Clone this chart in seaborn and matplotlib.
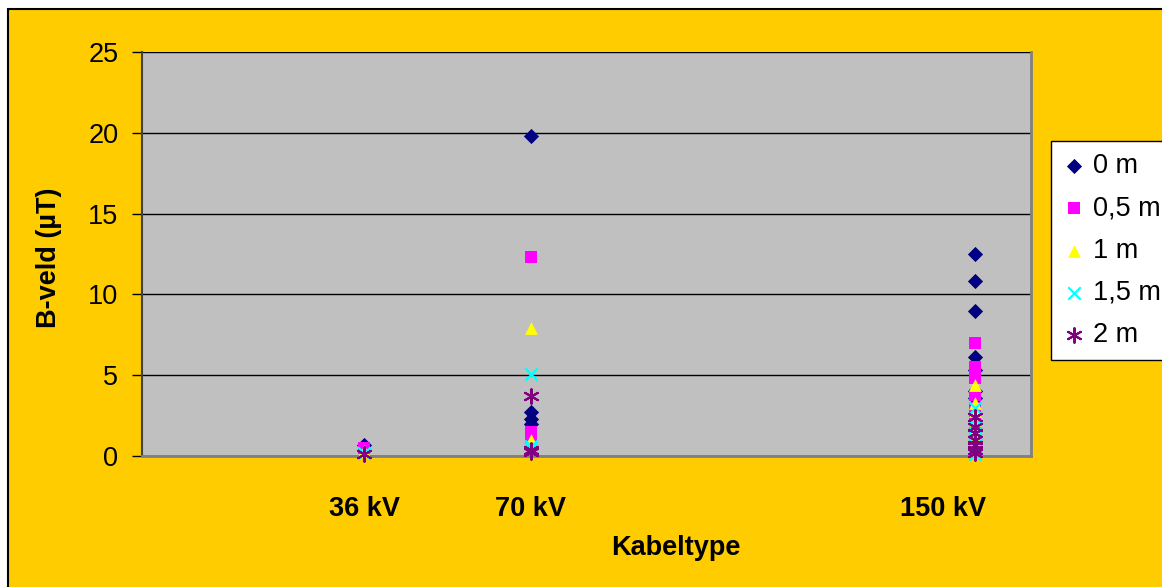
"""
B-veld per kabeltype, Excel-style scatter
"""

import pandas as pd
import matplotlib.pyplot as plt
import matplotlib.transforms as mtransforms
import seaborn as sns
from matplotlib.patches import Rectangle

# Data
kabel_labels = ['36 kV', '70 kV', '150 kV']
kabel_x = [40, 70, 150]

afstanden = ['0 m', '0,5 m', '1 m', '1,5 m', '2 m']

# measured values per cable type (one list per distance)
b_36 = {
    '0 m': [0.7],
    '0,5 m': [0.5],
    '1 m': [0.3],
    '1,5 m': [0.2],
    '2 m': [0.15],
}
b_70 = {
    '0 m': [19.8, 2.7, 2.3, 2.0],
    '0,5 m': [12.3, 1.5, 1.3, 1.1],
    '1 m': [7.9, 1.0, 0.8, 0.6],
    '1,5 m': [5.1, 0.6, 0.5, 0.4],
    '2 m': [3.7, 0.4, 0.3, 0.25],
}
b_150 = {
    '0 m': [12.5, 10.8, 9.0, 6.1, 5.3, 4.0, 3.6],
    '0,5 m': [7.0, 5.5, 4.8, 3.8, 3.0, 2.2, 1.9],
    '1 m': [4.4, 3.3, 2.8, 2.2, 1.6, 1.2, 1.0],
    '1,5 m': [3.0, 2.3, 1.8, 1.4, 1.0, 0.7, 0.1],
    '2 m': [2.4, 1.8, 1.4, 1.0, 0.7, 0.4, 0.2],
}

rows = []
for x, series in zip(kabel_x, [b_36, b_70, b_150]):
    for afst, vals in series.items():
        for v in vals:
            rows.append({'x': x, 'B': v, 'afstand': afst})
df = pd.DataFrame(rows)

kleuren = {'0 m': '#000080', '0,5 m': '#FF00FF', '1 m': '#FFFF00',
           '1,5 m': '#00FFFF', '2 m': '#800080'}
markers = {'0 m': 'D', '0,5 m': 's', '1 m': '^', '1,5 m': 'x', '2 m': (6, 2, 0)}
sizes = {'0 m': 60, '0,5 m': 70, '1 m': 85, '1,5 m': 80, '2 m': 110}

sns.set_style('white')
plt.rcParams['font.family'] = ['Liberation Sans', 'DejaVu Sans']
plt.rcParams['text.color'] = 'black'
plt.rcParams['axes.labelcolor'] = 'black'
plt.rcParams['xtick.color'] = 'black'
plt.rcParams['ytick.color'] = 'black'

W, H = 1162, 587
fig = plt.figure(figsize=(W / 100, H / 100), dpi=100)
fig.patch.set_facecolor('white')
fig.patches.append(Rectangle((8 / W, -0.1), 1.2, 1 - 9 / H + 0.1, transform=fig.transFigure,
                             facecolor='#FFCC00', edgecolor='black', linewidth=1.5, zorder=-10))

ax = fig.add_axes([142 / W, 1 - 456 / H, (1031 - 142) / W, (456 - 52) / H])
ax.set_facecolor('#C0C0C0')

for afst in afstanden:
    sub = df[df['afstand'] == afst]
    lw = 1.5 if afst in ('1,5 m', '2 m') else 0
    sns.scatterplot(data=sub, x='x', y='B', ax=ax, marker=markers[afst],
                    color=kleuren[afst], s=sizes[afst], linewidth=lw,
                    edgecolor=kleuren[afst] if lw == 0 else None,
                    label=afst, zorder=3, clip_on=False)

ax.set_xlim(0, 160)
ax.set_ylim(0, 25)
ax.set_yticks([0, 5, 10, 15, 20, 25])
ax.set_xticks(kabel_x)
ax.set_xticklabels(kabel_labels, fontweight='bold')
ax.yaxis.grid(True, color='black', linewidth=1)
ax.xaxis.grid(False)
ax.set_axisbelow(True)

ax.tick_params(axis='x', length=0, pad=29, labelsize=19.5)
ax.tick_params(axis='y', length=7, width=1, color='black', direction='out',
               left=True, pad=10, labelsize=19.5)

# the 150 kV label sits a bit left of its column
shift = mtransforms.ScaledTranslation(-32 / 100, 0, fig.dpi_scale_trans)
lbl = ax.get_xticklabels()[2]
lbl.set_transform(lbl.get_transform() + shift)

ax.spines['top'].set_visible(False)
ax.spines['left'].set_color('#404040')
ax.spines['left'].set_linewidth(1.5)
ax.spines['bottom'].set_color('#808080')
ax.spines['bottom'].set_linewidth(2)
ax.spines['right'].set_color('#808080')
ax.spines['right'].set_linewidth(2)

ax.set_xlabel('Kabeltype', fontsize=19.5, fontweight='bold')
ax.set_ylabel('B-veld (µT)', fontsize=19.5, fontweight='bold')
ax.xaxis.set_label_coords(0.6, -0.195)
ax.yaxis.set_label_coords(-0.09, 0.49)

handles, labels = ax.get_legend_handles_labels()
ax.legend_.remove()
leg = fig.legend(handles, labels, loc='upper left', bbox_to_anchor=(1051 / W, 1 - 141 / H),
                 fontsize=19.5, frameon=True, fancybox=False, edgecolor='black',
                 framealpha=1, borderpad=0.45, labelspacing=0.6, handletextpad=0.3,
                 handlelength=0.8, borderaxespad=0, markerscale=1.0)
leg.get_frame().set_linewidth(1)

fig.savefig('out.png', dpi=100)
